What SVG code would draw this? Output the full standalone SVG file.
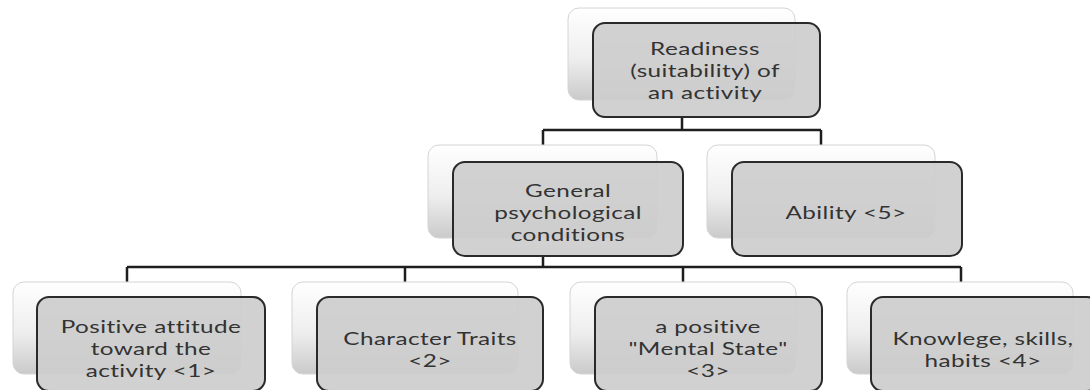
<svg xmlns="http://www.w3.org/2000/svg" width="1090" height="390" viewBox="0 0 1090 390">
<defs>
<linearGradient id="bg" x1="0" y1="0" x2="0" y2="1">
<stop offset="0" stop-color="#ffffff"/>
<stop offset="0.55" stop-color="#eeeeee"/>
<stop offset="1" stop-color="#cacaca"/>
</linearGradient>
</defs>
<style>
.back{fill:url(#bg);stroke:#d4d4d4;stroke-width:1}
.front{fill:#cdcdcd;fill-opacity:0.92;stroke:#2a2a2a;stroke-width:2}
.conn{fill:none;stroke:#1e1e1e;stroke-width:2.5}
text{font-family:Lato,"Open Sans","Liberation Sans",sans-serif;font-size:18px;fill:#333333;text-anchor:middle;letter-spacing:0.3px}
</style>
<rect width="1090" height="390" fill="#ffffff"/>
<g id="connectors">
<path class="conn" d="M682 117V130M543 130H821M543 130V145M821 130V145"/>
<path class="conn" d="M543 256V267M127 267H961M127 267V282M405 267V282M683 267V282M961 267V282"/>
</g>
<g id="node-readiness">
<rect class="back" x="568" y="8" width="227" height="92" rx="11"/>
<rect class="front" x="593" y="23" width="227" height="94" rx="12"/>
<text transform="matrix(1.35 0 0 1 705 0)"><tspan x="0" y="55">Readiness</tspan><tspan x="0" y="77">(suitability) of</tspan><tspan x="0" y="99">an activity</tspan></text>
</g>
<g id="node-general">
<rect class="back" x="428" y="145" width="229" height="93" rx="11"/>
<rect class="front" x="453" y="162" width="230" height="94" rx="12"/>
<text transform="matrix(1.35 0 0 1 568 0)"><tspan x="0" y="197">General</tspan><tspan x="0" y="219">psychological</tspan><tspan x="0" y="241">conditions</tspan></text>
</g>
<g id="node-ability">
<rect class="back" x="707" y="145" width="228" height="93" rx="11"/>
<rect class="front" x="732" y="162" width="230" height="94" rx="12"/>
<text transform="matrix(1.35 0 0 1 846 0)"><tspan x="0" y="219">Ability &lt;5&gt;</tspan></text>
</g>
<g id="node-1">
<rect class="back" x="13" y="282" width="228" height="92" rx="11"/>
<rect class="front" x="37" y="297" width="228" height="94" rx="12"/>
<text transform="matrix(1.35 0 0 1 151 0)"><tspan x="0" y="333">Positive attitude</tspan><tspan x="0" y="355">toward the</tspan><tspan x="0" y="377">activity &lt;1&gt;</tspan></text>
</g>
<g id="node-2">
<rect class="back" x="292" y="282" width="226" height="92" rx="11"/>
<rect class="front" x="317" y="297" width="226" height="94" rx="12"/>
<text transform="matrix(1.35 0 0 1 430 0)"><tspan x="0" y="345">Character Traits</tspan><tspan x="0" y="367">&lt;2&gt;</tspan></text>
</g>
<g id="node-3">
<rect class="back" x="570" y="282" width="226" height="92" rx="11"/>
<rect class="front" x="595" y="297" width="227" height="94" rx="12"/>
<text transform="matrix(1.35 0 0 1 708 0)"><tspan x="0" y="333">a positive</tspan><tspan x="0" y="355">"Mental State"</tspan><tspan x="0" y="377">&lt;3&gt;</tspan></text>
</g>
<g id="node-4">
<rect class="back" x="847" y="282" width="226" height="92" rx="11"/>
<rect class="front" x="871" y="297" width="228" height="94" rx="12"/>
<text transform="matrix(1.35 0 0 1 983 0)"><tspan x="0" y="345">Knowlege, skills,</tspan><tspan x="0" y="367">habits &lt;4&gt;</tspan></text>
</g>
</svg>
